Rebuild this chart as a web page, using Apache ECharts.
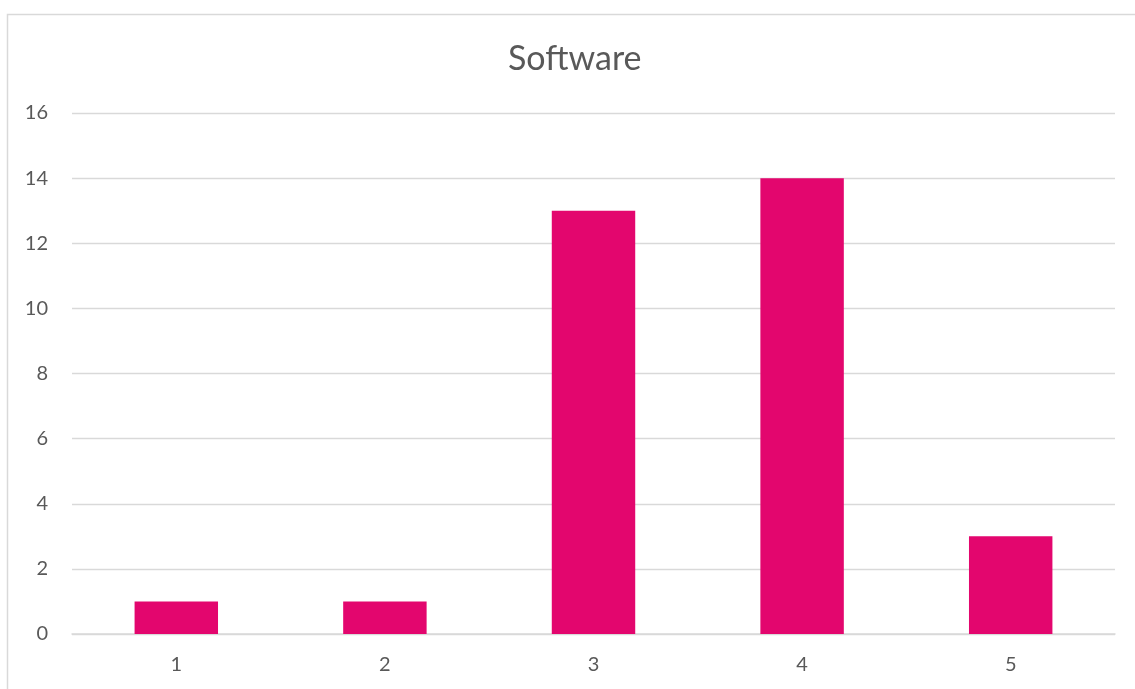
<!DOCTYPE html>
<html>
<head>
<meta charset="utf-8">
<script src="https://cdn.jsdelivr.net/npm/echarts@6/dist/echarts.min.js"></script>
<style>
  html, body { margin: 0; padding: 0; background: #ffffff; }
  #chart { width: 1135px; height: 689px; }
</style>
</head>
<body>
<div id="chart"></div>
<script>
// Ratings 1–5 and how many responses each one got
const categories = ['1', '2', '3', '4', '5'];
const counts = [1, 1, 13, 14, 3];
const yTicks = { min: 0, max: 16, interval: 2 };

const chart = echarts.init(document.getElementById('chart'), null, { renderer: 'canvas' });
const textColor = '#595959';
const font = 'Lato, "Open Sans", sans-serif';

chart.setOption({
  backgroundColor: '#ffffff',
  animation: false,
  title: {
    text: 'Software',
    left: 503,
    top: 37,
    textStyle: { color: textColor, fontSize: 34, fontWeight: 'normal', fontFamily: font }
  },
  graphic: [{
    type: 'rect',
    shape: { x: 7.5, y: 14.5, width: 1150, height: 700 },
    style: { fill: 'none', stroke: '#d9d9d9', lineWidth: 1.5 },
    silent: true
  }],
  grid: { left: 72, right: 20, top: 113, bottom: 55, containLabel: false },
  xAxis: {
    type: 'category',
    data: categories,
    axisLine: { show: true, lineStyle: { color: '#d9d9d9', width: 1.5 } },
    axisTick: { show: false },
    axisLabel: { color: textColor, fontSize: 20, fontFamily: font, margin: 21 }
  },
  yAxis: {
    type: 'value',
    min: yTicks.min,
    max: yTicks.max,
    interval: yTicks.interval,
    axisLine: { show: false },
    axisTick: { show: false },
    axisLabel: { color: textColor, fontSize: 20, fontFamily: font, margin: 24 },
    splitLine: { lineStyle: { color: '#d9d9d9', width: 1.3 } }
  },
  series: [{
    type: 'bar',
    data: counts,
    barWidth: '40%',
    itemStyle: { color: '#e3066e' }
  }]
});
</script>
</body>
</html>
